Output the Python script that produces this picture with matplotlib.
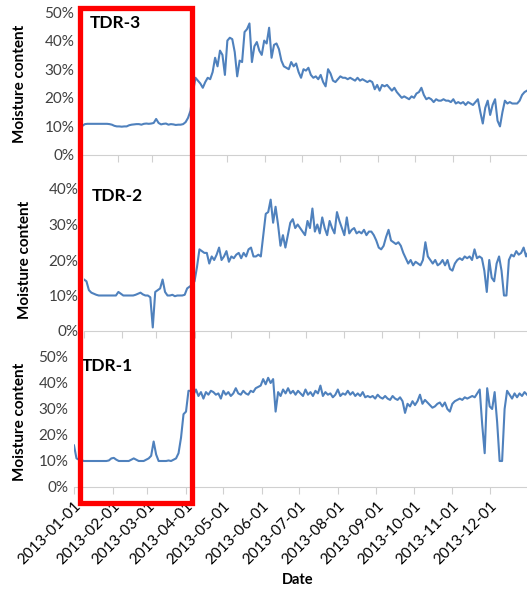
import numpy as np
import pandas as pd
import matplotlib
matplotlib.use("Agg")
import matplotlib.pyplot as plt
import matplotlib.dates as mdates
from matplotlib.patches import Rectangle
from matplotlib.ticker import PercentFormatter

plt.rcParams['font.family'] = ['Lato', 'DejaVu Sans']

# moisture content (%), one reading every 2 days from 2013-01-01
tdr3 = [
    10.8, 10.2, 10.8, 10.9, 10.9, 10.9, 10.9, 10.9, 10.9, 10.9, 10.9, 10.9, 10.8, 10.6, 10.2,
    10.0, 10.0, 9.9, 10.0, 10.0, 10.4, 10.6, 10.7, 10.8, 10.8, 10.6, 10.9, 11.0, 10.9, 11.0,
    11.2, 12.6, 11.2, 10.7, 10.9, 11.0, 10.6, 10.8, 10.7, 10.5, 10.6, 10.6, 10.8, 11.5, 13.0,
    15.5, 22.0, 27.0, 26.0, 25.0, 23.5, 25.5, 27.0, 26.5, 29.0, 34.0, 31.0, 36.5, 35.0, 28.0,
    40.0, 41.0, 40.5, 36.0, 27.5, 33.0, 32.5, 43.0, 44.0, 46.0, 32.5, 38.0, 39.5, 36.5, 35.0,
    40.0, 39.0, 44.5, 34.0, 38.5, 39.0, 37.0, 33.0, 31.0, 30.5, 30.0, 32.5, 31.0, 32.0, 29.0,
    27.0, 30.0, 29.5, 30.5, 28.0, 27.0, 27.5, 26.5, 28.0, 25.5, 24.0, 30.0, 28.5, 26.0, 25.5,
    26.5, 27.5, 27.0, 27.0, 26.5, 27.0, 26.5, 26.0, 27.0, 26.0, 26.5, 26.0, 25.5, 26.0, 25.5,
    23.0, 24.5, 22.5, 24.5, 24.0, 24.5, 23.5, 22.5, 23.5, 22.0, 21.0, 20.0, 20.5, 20.0, 19.5,
    20.5, 20.0, 21.5, 22.0, 23.5, 21.0, 19.5, 20.0, 19.5, 18.5, 19.5, 19.0, 19.0, 19.5, 19.0,
    19.0, 18.5, 19.5, 18.0, 18.5, 18.0, 18.5, 17.5, 18.5, 18.0, 17.5, 18.5, 19.5, 15.0, 11.0,
    16.5, 19.0, 14.0, 17.5, 19.5, 12.0, 10.0, 15.0, 19.0, 18.0, 18.5, 18.0, 18.0, 18.0, 19.0,
    21.0, 22.0, 22.5,
]
tdr2 = [
    14.5, 14.0, 11.5, 10.8, 10.5, 10.2, 10.0, 10.0, 10.0, 10.0, 10.0, 10.0, 10.0, 10.0, 11.0,
    10.5, 10.0, 10.0, 10.0, 10.0, 10.0, 10.2, 10.5, 10.8, 10.3, 10.0, 10.0, 9.5, 1.0, 11.0,
    11.5, 12.0, 14.5, 11.0, 10.0, 10.0, 10.2, 9.8, 10.0, 10.0, 10.0, 10.2, 12.0, 12.5, 13.0,
    14.0, 18.0, 23.0, 22.5, 22.0, 22.0, 19.0, 21.0, 20.0, 21.5, 23.5, 20.0, 21.0, 22.5, 19.5,
    21.0, 20.5, 21.5, 22.0, 20.5, 22.0, 21.0, 23.0, 23.5, 21.0, 21.0, 21.5, 21.0, 27.0, 33.0,
    33.5, 37.0, 30.5, 35.0, 30.0, 24.0, 27.0, 23.5, 27.0, 30.5, 31.5, 29.0, 30.0, 29.0, 28.0,
    27.0, 31.0, 29.0, 34.5, 28.0, 30.0, 27.5, 32.0, 29.0, 27.0, 31.0, 29.0, 27.5, 33.5, 31.0,
    29.0, 27.0, 32.0, 27.5, 28.5, 29.0, 27.5, 28.0, 27.5, 28.5, 27.0, 28.0, 28.0, 27.0, 25.5,
    23.5, 23.0, 24.0, 26.5, 28.5, 25.5, 25.0, 24.5, 25.0, 24.0, 22.0, 20.5, 19.0, 20.0, 18.5,
    19.5, 19.0, 18.5, 20.0, 25.0, 21.0, 20.0, 19.0, 20.0, 18.5, 19.0, 20.0, 18.5, 20.0, 17.5,
    17.0, 19.0, 20.0, 20.5, 20.0, 21.0, 20.5, 21.0, 20.0, 23.0, 20.5, 21.0, 20.5, 17.0, 11.0,
    20.0, 15.0, 14.0, 19.0, 21.0, 17.0, 10.0, 10.0, 20.0, 21.5, 21.0, 22.5, 21.5, 22.0, 23.5,
    21.0, 22.5, 21.0,
]
tdr1 = [
    16.0, 11.0, 10.5, 10.3, 10.0, 10.0, 10.0, 10.0, 10.0, 10.0, 10.0, 10.0, 10.0, 10.0, 10.2,
    11.0, 11.2, 10.5, 10.0, 10.0, 10.0, 10.0, 10.0, 10.5, 11.0, 10.5, 10.0, 10.0, 10.0, 10.5,
    11.0, 12.0, 17.5, 12.5, 10.0, 10.0, 10.0, 10.0, 10.2, 10.0, 10.5, 11.0, 13.0, 19.0, 28.0,
    29.0, 37.0, 37.0, 35.5, 37.5, 35.0, 36.5, 34.0, 36.5, 35.5, 37.0, 36.5, 35.5, 36.0, 34.0,
    37.0, 35.5, 36.5, 35.0, 36.0, 38.0, 36.0, 35.5, 37.0, 36.0, 35.5, 37.0, 36.5, 38.0, 38.5,
    39.0, 41.5, 39.5, 42.0, 40.0, 41.5, 29.0, 36.5, 35.0, 37.5, 36.0, 38.0, 36.0, 37.0, 35.5,
    37.0, 36.0, 35.0, 37.5, 35.5, 36.5, 35.0, 37.0, 36.0, 39.0, 35.0, 36.5, 35.5, 36.0, 34.5,
    35.5, 37.5, 35.0, 36.0, 35.5, 37.0, 35.5, 36.5, 35.0, 36.0, 35.0, 36.5, 34.5, 35.0, 34.5,
    35.0, 34.0, 35.5, 34.5, 34.0, 35.0, 34.0, 33.5, 35.0, 34.0, 33.5, 34.5, 33.0, 28.5, 32.0,
    31.0, 33.0, 31.5, 33.0, 35.5, 32.0, 33.5, 32.5, 31.5, 30.5, 31.0, 32.0, 32.5, 31.0, 32.5,
    30.0, 29.0, 32.0, 33.0, 33.5, 34.0, 33.5, 34.5, 34.0, 34.5, 35.0, 34.5, 36.0, 37.5, 24.0,
    13.0, 38.0, 31.0, 30.0, 36.5, 25.0, 10.0, 10.0, 30.0, 37.0, 35.5, 34.0, 36.0, 34.5, 36.0,
    35.0, 36.5, 35.5,
]
names = ["TDR-3", "TDR-2", "TDR-1"]
ymax = [50, 40, 50]

W, H = 527, 589
fig = plt.figure(figsize=(W / 100, H / 100), dpi=100)

def px_axes(left, right, bottom, top):
    return fig.add_axes([left / W, 1 - bottom / H, (right - left) / W, (bottom - top) / H])

# pixel boxes of the three panels: left, right, y of 0%, y of top value
boxes = [(80, 527, 155, 12), (84, 531, 331, 189), (74, 527, 487, 357)]
ylab_pos = [(20, 84), (25, 260), (20, 422)]
name_pos = [(90, 23), (92, 196), (82, 366)]

start, end = pd.Timestamp("2013-01-01"), pd.Timestamp("2013-12-31")
months = pd.date_range("2013-01-01", "2013-12-01", freq="MS")

for i, series in enumerate([tdr3, tdr2, tdr1]):
    ax = px_axes(*boxes[i])
    dates = pd.date_range("2013-01-01", periods=len(series), freq="2D")
    ax.plot(dates, series, color="#4F81BD", lw=1.5)
    ax.set_xlim(start, end)
    ax.set_ylim(0, ymax[i])
    ax.set_yticks(np.arange(0, ymax[i] + 1, 10))
    ax.yaxis.set_major_formatter(PercentFormatter(100, decimals=0))
    ax.set_xticks(months)
    ax.xaxis.set_major_formatter(mdates.DateFormatter("%Y-%m-%d"))
    for s in ["top", "right", "left"]:
        ax.spines[s].set_visible(False)
    ax.spines["bottom"].set_color("#d0d0d0")
    ax.tick_params(axis="y", length=0, labelsize=11, colors="#404040", pad=4)
    ax.tick_params(axis="x", length=5, color="#d0d0d0", labelsize=11, labelcolor="#000000")
    if i < 2:
        ax.tick_params(axis="x", labelbottom=False)
    else:
        plt.setp(ax.get_xticklabels(), rotation=45, ha="right", rotation_mode="anchor")
    ax.set_facecolor("none")
    fig.text(ylab_pos[i][0] / W, 1 - ylab_pos[i][1] / H, "Moisture content",
             rotation=90, ha="center", va="center", fontsize=11, fontweight="bold")
    fig.text(name_pos[i][0] / W, 1 - name_pos[i][1] / H, names[i],
             ha="left", va="center", fontsize=12.5, fontweight="bold")

fig.text(298 / W, 1 - 580 / H, "Date", ha="center", va="center",
         fontsize=10.5, fontweight="bold")

# highlight box over January-March
x0, x1, y0, y1 = 80, 192, 8, 503
fig.patches.append(Rectangle((x0 / W, 1 - y1 / H), (x1 - x0) / W, (y1 - y0) / H,
                             transform=fig.transFigure, fill=False,
                             edgecolor="#ff0000", lw=3.8, joinstyle="miter", zorder=10))

fig.savefig("out.png", dpi=100)
